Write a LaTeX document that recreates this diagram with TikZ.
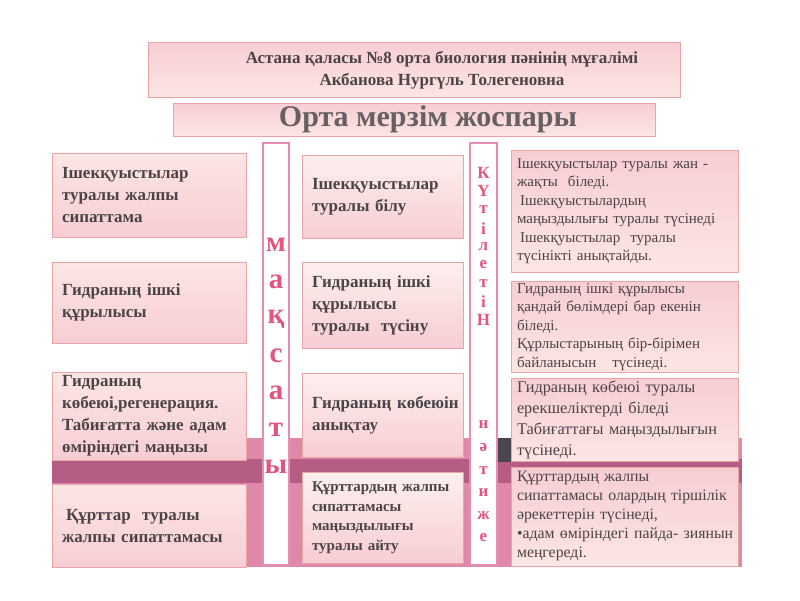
\documentclass[tikz,border=0pt]{standalone}
\usepackage{fontspec}
\setmainfont{Liberation Serif}
\usetikzlibrary{positioning,calc}
\definecolor{ink}{HTML}{4B4447}
\definecolor{edge}{HTML}{E9A4A6}
\definecolor{cellhi}{HTML}{FCE6E3}
\definecolor{celllo}{HTML}{F7CDD3}
\definecolor{barline}{HTML}{E58FB0}
\definecolor{rose}{HTML}{E3547F}
\definecolor{bandpink}{HTML}{DF88AA}
\definecolor{banddark}{HTML}{B65D85}
\definecolor{slate}{HTML}{4A4550}

\begin{document}
\begin{tikzpicture}[
  x=1pt, y=-1pt, text=ink,
  cell/.style={draw=edge, line width=.8pt, top color=cellhi, bottom color=celllo,
               align=left, inner xsep=10pt, inner ysep=2pt, text width=#1,
               font=\fontsize{17}{22}\selectfont\bfseries},
  cell/.default=174pt,
  note/.style={cell=#1, inner xsep=6pt, top color=celllo, bottom color=cellhi,
               font=\fontsize{15}{18.5}\selectfont},
  note/.default=215pt,
  head/.style={draw=edge, line width=.8pt, top color=celllo, bottom color=cellhi,
               inner sep=0pt},
  bar/.style={draw=barline, line width=1.6pt, fill=white, inner sep=0pt,
              minimum height=422pt},
  glyph/.style={text=rose, font=\fontsize{#1}{#1}\selectfont\bfseries, inner sep=0pt},
  glyph/.default=29,
]
\path[fill=white, use as bounding box] (0,0) rectangle (800,600);

%% ---------------- heading ----------------
\node[head, minimum width=532pt, minimum height=55pt] (hdr) at (414,69.5) {};
\node[font=\fontsize{17}{22}\selectfont\bfseries, align=center] (who) at (442,70)
  {Астана қаласы №8 орта биология пәнінің мұғалімі\\Акбанова Нургүль Толегеновна};
\node[head, minimum width=482pt, minimum height=33pt, text=ink!85,
      font=\fontsize{30}{30}\selectfont\bfseries] (ttl) at (414,119.5)
  {\hspace*{28pt}Орта мерзім жоспары};

%% ---------------- pink band behind the last row ----------------
\fill[bandpink] (52,438) rectangle (742,567);
\fill[banddark] (52,459) rectangle (742,483);
\fill[slate] (497,438) rectangle (511,462);

%% ---------------- vertical captions ----------------
\node[bar, minimum width=26pt] (aim) at (276,354) {};
\node[bar, minimum width=27pt] (res) at (483.5,354) {};
\foreach \ch [count=\i] in {м,а,қ,с,а,т,ы}
  \node[glyph] (aim-\i) at (276,{208+37*\i}) {\ch};
\foreach \ch [count=\i] in {К,Ү,т,і,л,е,т,і,Н}
  \node[glyph=17] (res-a\i) at (483.5,{154.5+18.4*\i}) {\ch};
\foreach \ch [count=\i] in {н,ә,т,и,ж,е}
  \node[glyph=17] (res-b\i) at (483.5,{402.4+22.6*\i}) {\ch};

%% ---------------- left column : topics ----------------
\node[cell, minimum height=84pt] (t1) at (149,195) {Ішекқуыстылар\\туралы жалпы\\сипаттама};
\node[cell, minimum height=81pt] (t2) at (149,302.5) {Гидраның ішкі\\құрылысы};
\node[cell, minimum height=88pt] (t3) at (149,416)
  {Гидраның\\\mbox{көбеюі,регенерация.}\\\mbox{Табиғатта және адам}\\өміріндегі маңызы};
\node[cell, minimum height=83pt] (t4) at (149,526) {\hspace*{4pt}Құрттар\ \ туралы\\жалпы сипаттамасы};

%% ---------------- middle column : aims ----------------
\node[cell=141pt, minimum height=83pt, top color=cellhi!60, bottom color=celllo] (m1) at (382.5,196.5)
  {Ішекқуыстылар\\туралы білу};
\node[cell=141pt, minimum height=86pt, top color=cellhi!60, bottom color=celllo] (m2) at (382.5,305)
  {Гидраның ішкі\\құрылысы\\туралы\ \ түсіну};
\node[cell=141pt, minimum height=84pt, top color=cellhi!60, bottom color=celllo] (m3) at (382.5,415)
  {\mbox{Гидраның көбеюін}\\анықтау};
\node[cell=141pt, minimum height=91pt, top color=cellhi!60, bottom color=celllo,
      font=\fontsize{15}{19.5}\selectfont\bfseries] (m4) at (382.5,517.5)
  {Құрттардың жалпы\\сипаттамасы\\маңыздылығы\\туралы айту};

%% ---------------- right column : expected results ----------------
\node[note, minimum height=122pt] (r1) at (624.5,211)
  {Ішекқуыстылар туралы жан -\\жақты\ \ біледі.\\\hspace*{3pt}Ішекқуыстылардың\\\mbox{маңыздылығы туралы түсінеді}\\\hspace*{3pt}Ішекқуыстылар\ \ туралы\\түсінікті анықтайды.};
\node[note, minimum height=90pt] (r2) at (624.5,327)
  {Гидраның ішкі құрылысы\\\mbox{қандай бөлімдері бар екенін}\\біледі.\\Құрлыстарының бір-бірімен\\байланысын\hspace{16pt}түсінеді.};
\node[note, minimum height=83pt, font=\fontsize{16.3}{21}\selectfont] (r3) at (624.5,419.5)
  {Гидраның көбеюі туралы\\ерекшеліктерді біледі\\\mbox{Табиғаттағы маңыздылығын}\\түсінеді.};
\node[note, minimum height=99pt, font=\fontsize{15.8}{19}\selectfont] (r4) at (624.5,516.5)
  {Құрттардың жалпы\\\mbox{сипаттамасы олардың тіршілік}\\әрекеттерін түсінеді,\\\mbox{•адам өміріндегі пайда- зиянын}\\меңгереді.};

\end{tikzpicture}
\end{document}
